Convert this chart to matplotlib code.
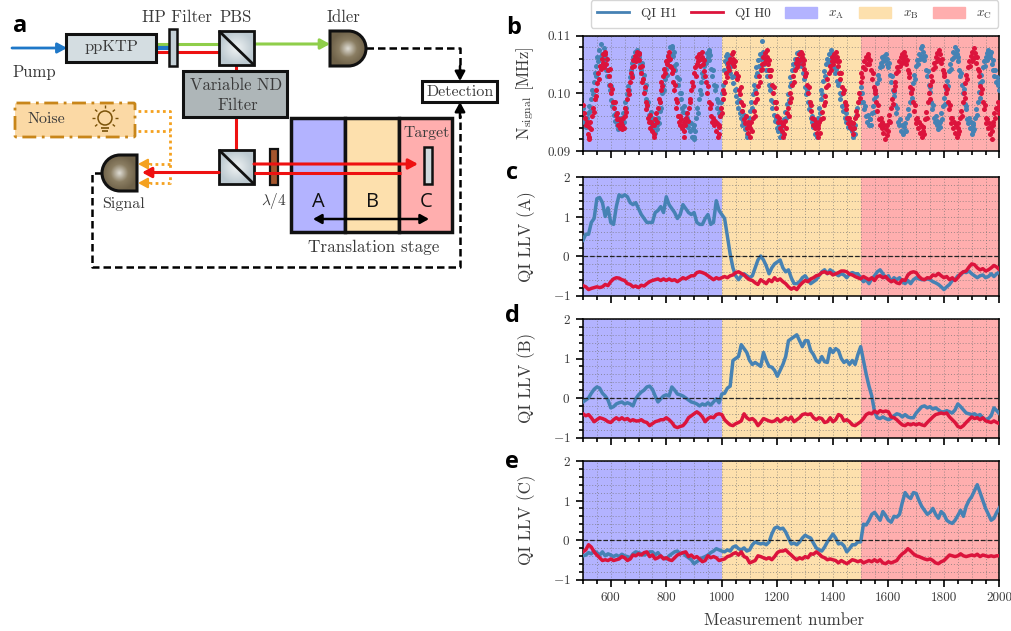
import numpy as np
import matplotlib
matplotlib.use('Agg')
import matplotlib.pyplot as plt
from matplotlib.patches import Rectangle, FancyBboxPatch, Circle, PathPatch, Patch
from matplotlib.path import Path
from matplotlib.lines import Line2D
from matplotlib.ticker import MultipleLocator, FuncFormatter

plt.rcParams['font.family'] = ['cmr10', 'DejaVu Sans']
plt.rcParams['mathtext.fontset'] = 'cm'
plt.rcParams['axes.unicode_minus'] = False
plt.rcParams['axes.formatter.use_mathtext'] = True

W, H = 1011, 631
BLUE, RED = '#4682b4', '#dc143c'
ZONE_A, ZONE_B, ZONE_C = '#b3b3ff', '#fde0ad', '#ffaeae'
TXT = '#3a3a3a'

# Panel b : readings in units of 1e-4 MHz, grouped by rising / falling stretch.
# h0_marks / h1_marks give the measurement number where each stretch starts and ends.
h0_marks = [500, 520, 580, 640, 700, 754, 814, 862, 928, 988, 1042, 1102, 1162, 1222, 1288, 1348, 1414, 1474,
            1528, 1594, 1660, 1726, 1786, 1852, 1912, 1972, 2000]
h0_rows = [
 [980,965,958,945,950,930,920],
 [925,942,950,938,960,975,968,990,1005,995,1018,1035,1025,1048,1042,1060,1052,1068,1045,1072],
 [1068,1050,1060,1040,1030,1042,1015,1000,1008,985,975,985,962,955,965,945,955,940,950,938],
 [945,958,940,960,975,968,990,1005,998,1020,1035,1028,1045,1058,1048,1065,1055,1072,1060,1070],
 [1058,1068,1045,1035,1048,1020,1025,1000,1010,985,972,980,958,950,962,940,950,935,945,925],
 [945,930,955,965,950,975,990,985,1005,1020,1012,1030,1042,1035,1055,1050,1065,1058,1072,1048],
 [1060,1045,1035,1040,1020,1005,1015,990,975,985,960,950,960,945,955,940,945,925],
 [950,935,945,958,965,952,975,990,985,1005,1020,1012,1035,1045,1030,1050,1062,1055,1068,1048,1060,1072],
 [1062,1050,1058,1038,1030,1020,1000,1012,985,975,982,960,950,958,945,952,935,948,925,942],
 [945,930,960,975,965,990,1005,1000,1020,1035,1028,1045,1052,1040,1060,1055,1068,1050,1072],
 [1060,1048,1055,1035,1025,1030,1005,998,1010,985,970,980,955,948,960,940,950,932,945,925],
 [940,950,935,958,970,960,985,1000,990,1012,1030,1020,1040,1050,1042,1062,1052,1070,1058,1075],
 [1062,1050,1058,1040,1030,1040,1015,1000,1010,985,975,985,960,950,958,940,950,935,945,925],
 [945,930,952,940,965,975,960,985,1000,992,1015,1030,1020,1040,1052,1045,1060,1050,1068,1058,1072,1062],
 [1068,1050,1058,1042,1030,1035,1015,1000,1010,985,970,980,958,945,955,940,950,932,945,925],
 [940,950,932,955,968,958,980,995,985,1010,1025,1015,1035,1048,1040,1055,1062,1050,1068,1058,1072,1055],
 [1062,1048,1055,1035,1025,1035,1010,1000,1005,985,972,980,958,948,958,942,950,938,948,930],
 [948,940,958,970,962,985,1000,992,1020,1035,1028,1045,1055,1042,1062,1050,1068,1060],
 [1062,1050,1058,1040,1025,1035,1010,1000,1005,985,970,980,955,945,958,940,950,932,945,920,938,928],
 [945,935,952,962,950,975,990,982,1005,1020,1012,1035,1045,1038,1055,1048,1062,1052,1068,1060,1072,1055],
 [1065,1050,1058,1040,1028,1035,1010,1000,1008,985,970,980,955,948,958,940,950,932,945,925,942,935],
 [942,930,955,968,958,985,1000,990,1015,1030,1022,1042,1052,1045,1062,1055,1070,1060,1075,1058],
 [1068,1052,1060,1040,1030,1035,1012,1000,1008,985,972,980,958,948,958,940,950,932,945,925,940,930],
 [948,935,958,970,960,985,1000,992,1018,1032,1025,1045,1055,1048,1065,1055,1072,1060,1078,1062],
 [1070,1052,1062,1042,1030,1038,1012,1000,1008,985,972,980,958,948,955,940,948,930,942,920],
 [935,945,950,965,958,975,972,985,965,978],
]
h1_marks = [500, 510, 574, 640, 700, 766, 820, 898, 952, 994, 1018, 1090, 1150, 1216, 1282, 1342, 1396, 1480,
            1505, 1534, 1594, 1660, 1726, 1786, 1846, 1906, 1966, 2000]
h1_rows = [
 [975,950,955,942],
 [945,958,948,965,978,970,990,1005,998,1020,1035,1030,1048,1062,1055,1075,1062,1085,1068,1052,1078],
 [1070,1055,1062,1040,1030,1040,1015,1005,1012,988,978,985,962,952,965,945,958,938,952,942,958,945],
 [952,965,950,975,985,975,998,1012,1005,1028,1040,1032,1052,1062,1055,1072,1062,1075,1060,1068],
 [1062,1070,1050,1040,1052,1025,1032,1005,1015,990,978,985,962,955,968,945,958,940,952,932,948,938],
 [945,958,948,970,985,975,1000,1015,1005,1025,1042,1032,1052,1065,1058,1080,1068,1082],
 [1078,1065,1072,1048,1040,1050,1028,1015,1025,1000,990,1000,975,968,978,955,965,948,958,942,950,935,948,925,940,920],
 [925,945,935,958,975,965,990,1005,998,1020,1035,1028,1048,1058,1052,1070,1062,1075],
 [1072,1058,1066,1042,1030,1040,1015,1005,1012,990,975,985,965,972],
 [960,985,1000,1015,1040,1055,1065,1050],
 [1068,1058,1062,1045,1035,1048,1028,1018,1030,1005,995,1008,985,975,988,965,958,970,945,952,962,938,945,925],
 [930,945,958,948,970,985,975,998,1015,1005,1030,1045,1035,1058,1048,1068,1060,1090,1065,1072],
 [1062,1050,1058,1040,1030,1040,1015,1005,1012,988,975,985,962,952,958,940,950,935,945,925,942,932],
 [945,930,955,968,958,982,998,988,1012,1028,1018,1040,1050,1042,1060,1052,1070,1060,1072,1055],
 [1060,1048,1055,1035,1025,1032,1010,998,1005,985,972,980,958,950,960,942,950,930,945,925],
 [945,958,975,965,990,1005,998,1022,1038,1030,1050,1060,1052,1068,1058,1075,1065],
 [1068,1055,1062,1045,1035,1042,1022,1015,1022,1000,990,998,978,970,980,958,965,950,958,942,950,940,948,935,945,925,940,930],
 [945,960,975,985,1000,1010,985],
 [1000,985,972,978,960,950,962,945,955],
 [955,945,965,978,968,990,1005,995,1018,1032,1025,1045,1052,1048,1062,1055,1065,1058,1068,1050],
 [1060,1045,1052,1032,1020,1030,1005,995,1002,980,965,975,950,945,955,935,945,930,942,935],
 [948,935,958,972,962,985,1002,992,1018,1032,1025,1048,1058,1050,1068,1060,1078,1065,1082,1062],
 [1072,1058,1065,1040,1030,1038,1015,1002,1010,985,972,980,958,950,960,945,952,938,948,942],
 [950,965,955,978,992,982,1008,1022,1012,1038,1050,1042,1060,1072,1062,1080,1068,1075],
 [1068,1055,1062,1040,1030,1035,1015,1000,1008,982,972,978,955,948,958,940,950,930,945,935],
 [948,938,958,972,962,985,1002,992,1018,1032,1022,1045,1055,1048,1062,1070,1058,1075,1065,1068],
 [1062,1072,1050,1058,1040,1030,1040,1020,1028,1015,1005,1022],
]

# Panels c, d, e : log-likelihood values, 10 measurements apart
c_h1 = [
 .40,.55,.55,.85,.95,1.45,1.48,1.35,1.0,1.22,
 .85,.80,1.25,1.55,1.50,1.55,1.50,1.35,1.30,1.35,
 1.20,1.05,.95,.85,.85,.85,1.10,1.15,1.25,1.10,
 1.50,1.30,1.20,1.10,.95,1.05,1.30,1.20,1.10,1.05,
 1.10,.85,.80,.80,.95,1.05,.80,.85,1.40,1.15,
 1.05,.95,.50,.05,-.30,-.50,-.60,-.50,-.45,-.50,
 -.55,-.50,-.30,-.10,0.0,-.10,-.25,-.45,-.30,-.20,
 -.15,-.10,-.30,-.40,-.35,-.55,-.70,-.70,-.65,-.55,
 -.50,-.60,-.70,-.65,-.60,-.50,-.40,-.35,-.45,-.35,
 -.40,-.45,-.50,-.45,-.48,-.55,-.45,-.42,-.45,-.45,
 -.55,-.65,-.60,-.70,-.58,-.50,-.40,-.35,-.45,-.55,
 -.50,-.65,-.55,-.60,-.55,-.65,-.70,-.62,-.70,-.60,
 -.55,-.58,-.60,-.60,-.58,-.60,-.65,-.68,-.72,-.78,
 -.85,-.78,-.72,-.62,-.60,-.50,-.48,-.40,-.42,-.38,
 -.45,-.50,-.55,-.50,-.48,-.55,-.52,-.45,-.52,-.45,
 -.40
]
c_h0 = [
 -.75,-.78,-.85,-.82,-.80,-.78,-.80,-.78,-.72,-.75,
 -.65,-.58,-.55,-.56,-.60,-.62,-.70,-.72,-.78,-.76,
 -.80,-.74,-.76,-.70,-.65,-.62,-.60,-.58,-.62,-.58,
 -.62,-.58,-.62,-.60,-.65,-.60,-.55,-.58,-.54,-.50,
 -.50,-.42,-.40,-.42,-.45,-.50,-.55,-.60,-.55,-.58,
 -.55,-.52,-.55,-.50,-.48,-.42,-.40,-.44,-.48,-.55,
 -.60,-.62,-.68,-.72,-.60,-.65,-.70,-.60,-.65,-.55,
 -.62,-.58,-.65,-.70,-.78,-.84,-.80,-.85,-.75,-.68,
 -.62,-.65,-.58,-.55,-.50,-.48,-.42,-.40,-.44,-.42,
 -.48,-.45,-.42,-.38,-.38,-.40,-.46,-.48,-.52,-.55,
 -.58,-.52,-.56,-.60,-.55,-.62,-.52,-.50,-.55,-.52,
 -.60,-.65,-.62,-.68,-.70,-.60,-.62,-.48,-.42,-.40,
 -.42,-.52,-.58,-.60,-.55,-.56,-.48,-.50,-.44,-.50,
 -.55,-.52,-.60,-.55,-.62,-.55,-.45,-.40,-.38,-.28,
 -.20,-.22,-.30,-.35,-.32,-.38,-.35,-.30,-.24,-.28,
 -.35
]
d_h1 = [
 -.10,-.05,0.0,.12,.22,.28,.25,.12,.05,-.05,
 -.25,-.22,-.15,-.12,-.10,-.15,-.12,-.15,-.20,-.02,
 .08,.15,.20,.28,.30,.22,.05,-.10,-.02,.05,
 .08,.05,.28,.20,.10,.08,.05,0.0,-.05,-.10,
 -.12,-.15,-.20,-.15,-.18,-.12,-.18,-.10,-.02,-.12,
 .10,.12,.25,.30,.95,1.0,1.05,1.35,1.25,1.15,
 .95,.85,.90,.85,.80,1.15,.95,.80,.78,.70,
 .55,.70,.85,1.05,1.45,1.50,1.55,1.60,1.45,1.30,
 1.45,1.45,1.20,1.10,.95,.90,1.05,.92,.90,1.25,
 1.15,1.25,1.20,1.0,.90,.95,.85,.95,.85,1.10,
 1.30,.95,.60,.30,.05,-.35,-.50,-.52,-.48,-.52,
 -.55,-.52,-.45,-.40,-.42,-.48,-.42,-.48,-.50,-.50,
 -.38,-.30,-.22,-.20,-.25,-.22,-.28,-.25,-.30,-.35,
 -.35,-.32,-.35,-.38,-.30,-.15,-.22,-.30,-.38,-.40,
 -.42,-.40,-.45,-.42,-.50,-.55,-.52,-.45,-.25,-.32,
 -.40
]
d_h0 = [
 -.40,-.45,-.42,-.50,-.60,-.55,-.50,-.52,-.55,-.60,
 -.62,-.55,-.50,-.55,-.50,-.55,-.52,-.58,-.55,-.58,
 -.58,-.55,-.60,-.62,-.70,-.65,-.60,-.58,-.55,-.55,
 -.50,-.55,-.62,-.72,-.75,-.72,-.70,-.62,-.50,-.45,
 -.40,-.35,-.40,-.48,-.60,-.52,-.48,-.50,-.42,-.40,
 -.42,-.55,-.62,-.68,-.70,-.65,-.62,-.58,-.40,-.50,
 -.55,-.52,-.58,-.70,-.62,-.52,-.55,-.58,-.60,-.58,
 -.52,-.60,-.55,-.50,-.55,-.48,-.60,-.55,-.50,-.42,
 -.40,-.42,-.40,-.50,-.55,-.50,-.52,-.62,-.60,-.50,
 -.60,-.55,-.42,-.45,-.58,-.55,-.60,-.68,-.70,-.65,
 -.60,-.52,-.42,-.38,-.40,-.33,-.38,-.32,-.35,-.33,
 -.35,-.48,-.50,-.55,-.62,-.68,-.70,-.65,-.68,-.65,
 -.68,-.65,-.68,-.70,-.62,-.55,-.48,-.42,-.40,-.38,
 -.40,-.38,-.48,-.55,-.62,-.72,-.75,-.70,-.62,-.55,
 -.48,-.52,-.50,-.55,-.50,-.58,-.60,-.62,-.58,-.62,
 -.65
]
e_h1 = [
 -.40,-.38,-.32,-.35,-.28,-.32,-.38,-.30,-.40,-.35,
 -.38,-.42,-.38,-.42,-.36,-.40,-.42,-.45,-.35,-.30,
 -.32,-.35,-.38,-.35,-.30,-.30,-.38,-.32,-.42,-.45,
 -.48,-.40,-.35,-.30,-.28,-.35,-.32,-.40,-.45,-.50,
 -.60,-.55,-.50,-.45,-.42,-.38,-.32,-.28,-.22,-.25,
 -.28,-.30,-.25,-.28,-.18,-.15,-.22,-.25,-.20,-.28,
 -.25,-.12,-.05,-.08,-.10,-.08,-.12,-.05,.15,.30,
 .33,.28,.30,.20,.05,-.10,-.08,-.12,-.05,.05,
 .12,.08,.05,-.08,-.20,-.25,-.28,-.18,-.05,.05,
 .15,.05,-.10,-.08,-.15,-.30,-.22,-.12,-.12,-.05,
 -.05,.40,.38,.50,.65,.70,.60,.50,.72,.62,
 .50,.45,.60,.58,.65,.95,1.20,1.10,1.05,1.20,
 1.18,1.00,.85,.75,.65,.70,.80,.65,.55,.72,
 .65,.50,.45,.42,.50,.62,.75,.60,.85,1.00,
 1.10,1.25,1.40,1.20,1.00,.80,.65,.50,.55,.70,
 .82
]
e_h0 = [
 -.30,-.25,-.12,-.18,-.30,-.38,-.45,-.52,-.50,-.52,
 -.48,-.52,-.50,-.48,-.42,-.45,-.52,-.48,-.38,-.40,
 -.35,-.38,-.32,-.30,-.42,-.38,-.48,-.45,-.40,-.48,
 -.45,-.50,-.52,-.45,-.38,-.35,-.32,-.30,-.42,-.38,
 -.45,-.42,-.48,-.55,-.52,-.40,-.45,-.42,-.45,-.52,
 -.50,-.48,-.42,-.40,-.35,-.32,-.38,-.30,-.42,-.45,
 -.58,-.55,-.52,-.40,-.42,-.45,-.48,-.45,-.50,-.42,
 -.32,-.28,-.28,-.25,-.32,-.38,-.45,-.50,-.45,-.48,
 -.42,-.45,-.35,-.36,-.30,-.35,-.42,-.45,-.50,-.48,
 -.50,-.52,-.58,-.52,-.56,-.60,-.55,-.50,-.52,-.55,
 -.52,-.58,-.55,-.52,-.55,-.50,-.55,-.50,-.58,-.60,
 -.55,-.58,-.55,-.52,-.42,-.35,-.30,-.22,-.28,-.35,
 -.40,-.42,-.45,-.48,-.50,-.48,-.52,-.58,-.60,-.55,
 -.52,-.45,-.38,-.40,-.42,-.40,-.35,-.40,-.42,-.40,
 -.38,-.40,-.36,-.42,-.38,-.40,-.42,-.40,-.42,-.40,
 -.40
]
llv_panels = [('QI LLV (A)', c_h1, c_h0, 177, 295.5),
              ('QI LLV (B)', d_h1, d_h0, 319, 437.5),
              ('QI LLV (C)', e_h1, e_h0, 461, 579.5)]

fig = plt.figure(figsize=(W / 100, H / 100), dpi=100)

def make_axes(top, bottom):
    ax = fig.add_axes([583 / W, 1 - bottom / H, (999.5 - 583) / W, (bottom - top) / H])
    ax.set_xlim(500, 2000)
    ax.axvspan(500, 1000, color=ZONE_A, lw=0, zorder=0)
    ax.axvspan(1000, 1500, color=ZONE_B, lw=0, zorder=0)
    ax.axvspan(1500, 2000, color=ZONE_C, lw=0, zorder=0)
    ax.xaxis.set_major_locator(MultipleLocator(200))
    ax.xaxis.set_minor_locator(MultipleLocator(50))
    ax.grid(True, which='both', ls=(0, (1, 2)), lw=0.7, color='#707070', alpha=0.65, zorder=1)
    ax.set_axisbelow(True)
    ax.tick_params(which='major', length=5, width=1.2, labelsize=9.5, labelcolor=TXT, pad=4)
    ax.tick_params(which='minor', length=3, width=1.2)
    for s in ax.spines.values():
        s.set_linewidth(1.1)
    return ax

def stretch_xy(marks, rows):
    xs, ys = [], []
    for a, b, row in zip(marks[:-1], marks[1:], rows):
        xs.extend(np.linspace(a, b, len(row)))
        ys.extend(row)
    return np.array(xs), np.array(ys) / 1e4

# Panel b
ax_b = make_axes(35.5, 151)
x1, y1 = stretch_xy(h1_marks, h1_rows)
x0, y0 = stretch_xy(h0_marks, h0_rows)
ax_b.scatter(x1, y1, s=13, color=BLUE, lw=0, zorder=3)
ax_b.scatter(x0, y0, s=13, color=RED, lw=0, zorder=4)
ax_b.set_ylim(0.09, 0.11)
ax_b.yaxis.set_major_locator(MultipleLocator(0.01))
ax_b.yaxis.set_minor_locator(MultipleLocator(0.002))
ax_b.yaxis.set_major_formatter(FuncFormatter(lambda v, _: f'{v:.2f}'))
ax_b.set_xticklabels([])
ax_b.set_ylabel(r'N$_{\mathrm{signal}}$ [MHz]', fontsize=12, color=TXT)
ax_b.yaxis.set_label_coords(-0.113, 0.5)

# Panels c, d, e
for i, (label_text, s1, s0, top, bottom) in enumerate(llv_panels):
    ax = make_axes(top, bottom)
    ax.plot(np.linspace(500, 2000, len(s1)), s1, color=BLUE, lw=2.5, zorder=3)
    ax.plot(np.linspace(500, 2000, len(s0)), s0, color=RED, lw=2.5, zorder=4)
    ax.axhline(0, color='#222222', ls='--', lw=0.9, zorder=5)
    ax.set_ylim(-1, 2)
    ax.yaxis.set_major_locator(MultipleLocator(1))
    ax.yaxis.set_minor_locator(MultipleLocator(0.2))
    ax.yaxis.set_major_formatter(FuncFormatter(lambda v, _: f'${v:.0f}$'))
    ax.set_ylabel(label_text, fontsize=12.3, color=TXT)
    ax.yaxis.set_label_coords(-0.113, 0.5)
    if i < 2:
        ax.set_xticklabels([])
    else:
        ax.xaxis.set_major_formatter(FuncFormatter(lambda v, _: f'{v:.0f}'))
        ax.set_xlabel('Measurement number', fontsize=12.1, color=TXT)
        ax.xaxis.set_label_coords(0.4826, -0.28)

handles = [Line2D([], [], color=BLUE, lw=2), Line2D([], [], color=RED, lw=2),
           Patch(color=ZONE_A), Patch(color=ZONE_B), Patch(color=ZONE_C)]
labels = ['QI H1', 'QI H0', r'$x_{\mathrm{A}}$', r'$x_{\mathrm{B}}$', r'$x_{\mathrm{C}}$']
leg = fig.legend(handles, labels, ncol=5, loc='center', bbox_to_anchor=(794.5 / W, 1 - 14 / H),
                 fontsize=9.5, frameon=True, fancybox=True, framealpha=0.8, edgecolor='#cccccc',
                 columnspacing=1.1, handlelength=2.45, handleheight=1.0, handletextpad=0.85, borderpad=0.5)
for t in leg.get_texts():
    t.set_color(TXT)

# Overlay in pixel coordinates: schematic and panel letters
ov = fig.add_axes([0, 0, 1, 1], facecolor='none')
ov.set_xlim(0, W)
ov.set_ylim(H, 0)
ov.axis('off')
ov.set_zorder(-1)

def line(pts, c, lw=2, ls='-', z=2):
    xs, ys = zip(*pts)
    ov.plot(xs, ys, color=c, lw=lw, ls=ls, zorder=z, solid_capstyle='butt', dash_capstyle='butt')

def arrow(p0, p1, c, lw=2, ls='-', z=3):
    ov.annotate('', xy=p1, xytext=p0, zorder=z,
                arrowprops=dict(arrowstyle='-|>,head_length=0.55,head_width=0.3', color=c, lw=lw, ls=ls,
                                shrinkA=0, shrinkB=0))

def box(x0, y0, x1, y1, fc, ec='#111111', lw=2, z=4, **kw):
    ov.add_patch(Rectangle((x0, y0), x1 - x0, y1 - y0, fc=fc, ec=ec, lw=lw, zorder=z, **kw))

def label(x, y, s, size=11, **kw):
    ov.text(x, y, s, fontsize=size, color=kw.pop('color', TXT), ha='center', va='center', **kw)

def gradient_box(x0, y0, x1, y1, lw=2):
    yy, xx = np.mgrid[-1:1:40j, -1:1:40j]
    img = np.clip(np.hypot(xx, yy), 0, 1)
    ov.imshow(img, extent=(x0, x1, y1, y0),
              cmap=matplotlib.colors.LinearSegmentedColormap.from_list('g', ['#eef2f3', '#bcc9d0']),
              zorder=4, aspect='auto')
    box(x0, y0, x1, y1, 'none', lw=lw, z=5)

def detector(x0, x1, y0, y1, flat_left=True):
    r = (y1 - y0) / 2
    k = 0.5523 * r
    ym = (y0 + y1) / 2
    if flat_left:
        xs = x1 - r
        verts = [(x0, y0), (xs, y0), (xs + k, y0), (x1, ym - k), (x1, ym), (x1, ym + k), (xs + k, y1), (xs, y1), (x0, y1), (x0, y0)]
    else:
        xs = x0 + r
        verts = [(x1, y0), (xs, y0), (xs - k, y0), (x0, ym - k), (x0, ym), (x0, ym + k), (xs - k, y1), (xs, y1), (x1, y1), (x1, y0)]
    codes = [Path.MOVETO, Path.LINETO, Path.CURVE4, Path.CURVE4, Path.CURVE4, Path.CURVE4, Path.CURVE4, Path.CURVE4, Path.LINETO, Path.CLOSEPOLY]
    patch = PathPatch(Path(verts, codes), fc='none', ec='#111111', lw=2.2, zorder=6)
    ov.add_patch(patch)
    yy, xx = np.mgrid[-1:1:40j, -1:1:40j]
    cmap = matplotlib.colors.LinearSegmentedColormap.from_list('d', ['#d9d6cd', '#8a7d62', '#6f6249'])
    im = ov.imshow(np.clip(np.hypot(xx, yy), 0, 1), extent=(x0, x1, y1, y0), cmap=cmap, aspect='auto', zorder=5)
    im.set_clip_path(patch)

# Beams
arrow((12, 48), (67, 48), '#1f78c8', lw=2)
label(34, 72, 'Pump', 12)
line([(156, 44), (219, 44)], '#8fce4a', 2.2)
line([(156, 48), (170, 48)], '#1f78c8', 3)
line([(156, 52), (219, 52)], '#ee1111', 2.2)
arrow((254, 44), (330, 44), '#8fce4a', lw=2.2)
line([(236, 65), (236, 150)], '#ee1111', 2.2)
arrow((254, 164), (418, 164), '#ee1111', lw=2.2, z=8)
line([(254, 172.5), (401, 172.5)], '#ee1111', 2.2, z=8)
arrow((219, 172.5), (142, 172.5), '#ee1111', lw=2.2, z=8)

# Optics
box(66, 34, 156, 62, '#d4dde1', lw=2.2)
label(111, 47, 'ppKTP', 11.8, zorder=6)
box(169, 29, 177, 66, '#c4d0d6', lw=1.8)
label(176.5, 17, 'HP Filter', 12)
label(236, 17, 'PBS', 12)
label(343, 17, 'Idler', 12)
for (x0_, y0_) in [(219, 31), (219, 150)]:
    gradient_box(x0_, y0_, x0_ + 35, y0_ + 34)
    line([(x0_, y0_), (x0_ + 35, y0_ + 34)], '#111111', 2, z=6)
detector(330, 366, 31, 66, True)
detector(102, 137, 155, 191, False)
label(123, 204, 'Signal', 11.5)
box(183, 71, 287, 117, '#aeb6b8', lw=2.2)
label(236, 85, 'Variable ND', 12, zorder=6)
label(238, 105, 'Filter', 12, zorder=6)
box(422, 81, 497, 102, 'white', lw=2.2)
label(460, 92, 'Detection', 11.5, zorder=6)
box(270, 149, 278, 185, '#a5562d', lw=1.6)
label(274, 201, r'$\lambda/4$', 11)

# Stage
box(291, 118, 345, 232, ZONE_A, lw=2.5, z=1)
box(345, 118, 399, 232, ZONE_B, lw=2.5, z=1)
box(399, 118, 452, 232, ZONE_C, lw=2.5, z=1)
box(424, 147, 432, 184, '#d0dade', lw=1.8, z=9)
label(427, 133, 'Target', 11.3)
for x, s in [(318, 'A'), (372, 'B'), (426, 'C')]:
    ov.text(x, 202, s, fontsize=14.5, family='Open Sans', color='#111111', ha='center', va='center')
ov.annotate('', xy=(313, 219), xytext=(429, 219), zorder=9,
            arrowprops=dict(arrowstyle='<|-|>,head_length=0.5,head_width=0.28', color='black', lw=1.8, shrinkA=0, shrinkB=0))
label(374, 247, 'Translation stage', 12.4)

# Detection wiring
line([(366, 48), (460, 48), (460, 70)], 'black', 1.8, ls=(0, (3, 1.6)))
arrow((460, 66), (460, 81), 'black', lw=1.8)
line([(102, 172.5), (92, 172.5), (92, 267), (460, 267), (460, 115)], 'black', 1.8, ls=(0, (3, 1.6)))
arrow((460, 118), (460, 102), 'black', lw=1.8)

# Noise source
ov.add_patch(FancyBboxPatch((15, 103), 120, 34, boxstyle='round,pad=0,rounding_size=1.5', fc='#fbd9a5', ec='#c8861a',
                            lw=2, ls=(0, (5, 2, 1, 2)), zorder=3))
label(46, 119, 'Noise', 11.5, zorder=4)
BULB = '#7a5208'
ov.add_patch(Circle((105, 118), 7, fc='none', ec=BULB, lw=1.1, zorder=4))
line([(101, 128), (109, 128)], BULB, 1.2, z=4)
line([(102, 131), (108, 131)], BULB, 1.2, z=4)
for a in np.deg2rad([0, 40, 90, 140, 180, 220, 320]):
    line([(105 + 10 * np.cos(a), 118 - 10 * np.sin(a)), (105 + 13 * np.cos(a), 118 - 13 * np.sin(a))], BULB, 1, z=4)
ORANGE = '#f4a11f'
line([(138, 111), (170, 111), (170, 183), (150, 183)], ORANGE, 2, ls=(0, (1, 1.2)))
line([(138, 131), (170, 131)], ORANGE, 2, ls=(0, (1, 1.2)))
line([(170, 164), (150, 164)], ORANGE, 2, ls=(0, (1, 1.2)))
arrow((150, 164), (138, 164), ORANGE, lw=1.6)
arrow((150, 183), (138, 183), ORANGE, lw=1.6)

# Panel letters
for x, y, s in [(20, 26, 'a'), (514, 28, 'b'), (512, 173, 'c'), (512, 316, 'd'), (512, 462, 'e')]:
    ov.text(x, y, s, fontsize=17, fontweight='bold', family='Open Sans', color='black', ha='center', va='center')

fig.savefig('out.png', dpi=100)
